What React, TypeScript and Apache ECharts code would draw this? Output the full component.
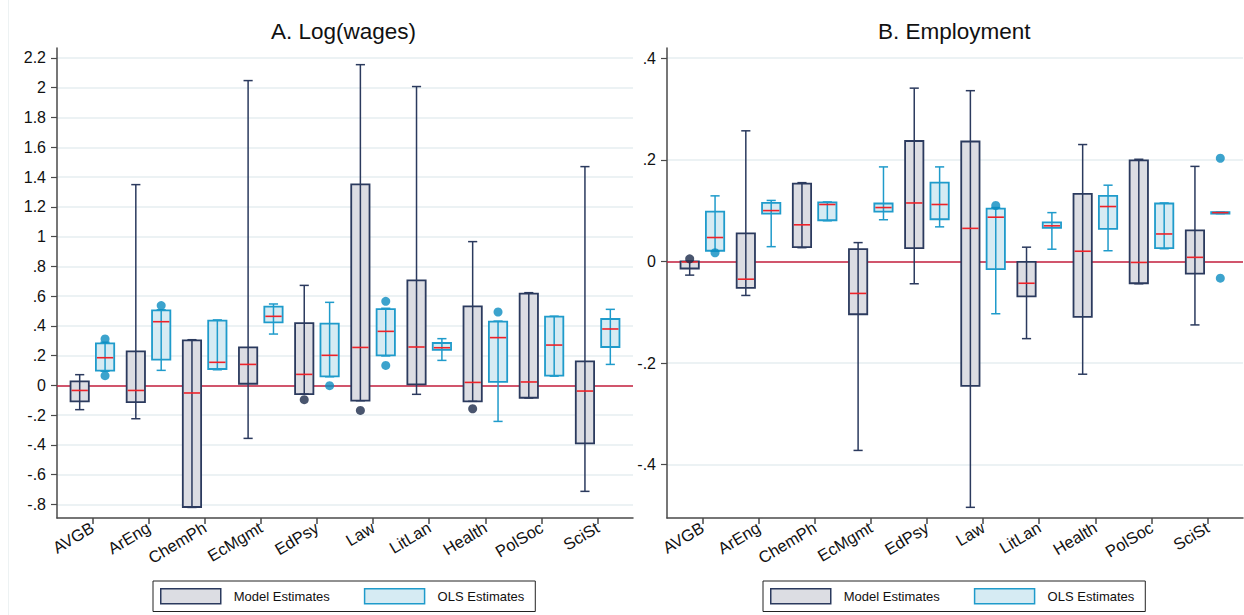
import React, { useEffect, useRef } from "react";
import * as echarts from "echarts";

// ---------- data ----------
const categories = ["AVGB", "ArEng", "ChemPh", "EcMgmt", "EdPsy", "Law", "LitLan", "Health", "PolSoc", "SciSt"];

// each row: [lower whisker, q1, median, q3, upper whisker]
const wageModel = [
  [-0.163, -0.107, -0.034, 0.027, 0.072],
  [-0.224, -0.112, -0.034, 0.229, 1.349],
  [-0.82, -0.817, -0.051, 0.302, 0.307],
  [-0.356, 0.011, 0.141, 0.255, 2.048],
  [-0.058, -0.058, 0.074, 0.419, 0.672],
  [-0.103, -0.103, 0.255, 1.351, 2.155],
  [-0.06, 0.007, 0.258, 0.706, 2.008],
  [-0.107, -0.107, 0.02, 0.531, 0.966],
  [-0.085, -0.083, 0.023, 0.616, 0.623],
  [-0.712, -0.39, -0.038, 0.161, 1.47],
];
const wageOLS = [
  [0.095, 0.099, 0.186, 0.282, 0.29],
  [0.101, 0.173, 0.428, 0.504, 0.508],
  [0.105, 0.11, 0.155, 0.435, 0.44],
  [0.345, 0.423, 0.464, 0.529, 0.547],
  [0.058, 0.06, 0.202, 0.415, 0.558],
  [0.198, 0.202, 0.363, 0.513, 0.518],
  [0.168, 0.238, 0.253, 0.285, 0.314],
  [-0.242, 0.023, 0.321, 0.428, 0.432],
  [0.062, 0.065, 0.271, 0.462, 0.465],
  [0.141, 0.258, 0.379, 0.446, 0.511],
];
const wageModelOutliers: [string, number][] = [
  ["EdPsy", -0.096],
  ["Law", -0.168],
  ["Health", -0.157],
];
const wageOLSOutliers: [string, number][] = [
  ["AVGB", 0.312],
  ["AVGB", 0.065],
  ["ArEng", 0.536],
  ["EdPsy", -0.002],
  ["Law", 0.565],
  ["Law", 0.134],
  ["Health", 0.493],
];

const empModel = [
  [-0.027, -0.014, -0.001, 0.0, 0.0],
  [-0.067, -0.052, -0.035, 0.055, 0.257],
  [0.027, 0.028, 0.072, 0.153, 0.155],
  [-0.372, -0.104, -0.063, 0.024, 0.037],
  [-0.044, 0.026, 0.115, 0.237, 0.341],
  [-0.484, -0.245, 0.065, 0.236, 0.336],
  [-0.152, -0.069, -0.043, -0.001, 0.028],
  [-0.222, -0.109, 0.02, 0.133, 0.23],
  [-0.044, -0.043, -0.002, 0.199, 0.201],
  [-0.125, -0.024, 0.008, 0.061, 0.187],
];
const empOLS = [
  [0.02, 0.021, 0.047, 0.098, 0.129],
  [0.029, 0.094, 0.1, 0.115, 0.12],
  [0.08, 0.081, 0.112, 0.116, 0.117],
  [0.082, 0.098, 0.106, 0.114, 0.186],
  [0.068, 0.083, 0.112, 0.155, 0.186],
  [-0.103, -0.015, 0.087, 0.104, 0.106],
  [0.024, 0.066, 0.07, 0.077, 0.096],
  [0.021, 0.064, 0.108, 0.129, 0.15],
  [0.025, 0.026, 0.054, 0.114, 0.115],
  [0.094, 0.094, 0.096, 0.097, 0.097],
];
const empModelOutliers: [string, number][] = [["AVGB", 0.005]];
const empOLSOutliers: [string, number][] = [
  ["AVGB", 0.017],
  ["Law", 0.11],
  ["SciSt", 0.203],
  ["SciSt", -0.033],
];

const wageTicks = [-0.8, -0.6, -0.4, -0.2, 0, 0.2, 0.4, 0.6, 0.8, 1, 1.2, 1.4, 1.6, 1.8, 2, 2.2];
const empTicks = [-0.4, -0.2, 0, 0.2, 0.4];

// ---------- style ----------
const FONT = "'Liberation Sans', Arial, Helvetica, sans-serif";
const MODEL_FILL = "#dcdde3";
const MODEL_STROKE = "#2b3a5e";
const MODEL_DOT = "#1c2a4a";
const OLS_FILL = "#d6ebf3";
const OLS_STROKE = "#1f9bcb";
const OLS_DOT = "#0b8cc1";
const MEDIAN = "#ee2229";
const ZERO = "#c9203f";
const GRID = "#e6eef0";
const AXIS = "#4a4a4a";
const OFFSET = 0.226;
const BOX_W = 0.326;

const fmt = (v: number) => {
  const r = Math.round(v * 10) / 10;
  if (r === 0) return "0";
  let s = String(r);
  s = s.replace(/^0\./, ".").replace(/^-0\./, "-.");
  return s;
};

function boxRenderer(fill: string, stroke: string) {
  return (params: any, api: any) => {
    const x = api.value(0);
    const lo = api.coord([x, api.value(1)]);
    const q1 = api.coord([x, api.value(2)]);
    const med = api.coord([x, api.value(3)]);
    const q3 = api.coord([x, api.value(4)]);
    const hi = api.coord([x, api.value(5)]);
    const w = api.size([BOX_W, 0])[0];
    const cap = w * 0.25;
    const cx = lo[0];
    const top = Math.min(q1[1], q3[1]);
    const h = Math.max(Math.abs(q1[1] - q3[1]), 0.5);
    return {
      type: "group",
      children: [
        { type: "rect", shape: { x: cx - w / 2, y: top, width: w, height: h }, style: { fill, stroke: "none" } },
        { type: "line", shape: { x1: cx, y1: hi[1], x2: cx, y2: lo[1] }, style: { stroke, lineWidth: 1.5 } },
        { type: "line", shape: { x1: cx - cap, y1: hi[1], x2: cx + cap, y2: hi[1] }, style: { stroke, lineWidth: 1.5 } },
        { type: "line", shape: { x1: cx - cap, y1: lo[1], x2: cx + cap, y2: lo[1] }, style: { stroke, lineWidth: 1.5 } },
        { type: "rect", shape: { x: cx - w / 2, y: top, width: w, height: h }, style: { fill: "none", stroke, lineWidth: 1.8 } },
        { type: "line", shape: { x1: cx - w / 2 + 1, y1: med[1], x2: cx + w / 2 - 1, y2: med[1] }, style: { stroke: MEDIAN, lineWidth: 1.6 } },
      ],
    };
  };
}

function boxData(rows: number[][], off: number) {
  return rows.map((r, i) => [i + off, ...r]);
}
function outData(rows: [string, number][], off: number) {
  return rows.map(([c, v]) => [categories.indexOf(c) + off, v]);
}

function panelSeries(idx: number, model: number[][], ols: number[][], mOut: [string, number][], oOut: [string, number][]) {
  return [
    {
      name: "Model Estimates",
      type: "custom",
      xAxisIndex: idx,
      yAxisIndex: idx,
      renderItem: boxRenderer(MODEL_FILL, MODEL_STROKE),
      itemStyle: { color: MODEL_FILL, borderColor: MODEL_STROKE, borderWidth: 1.5 },
      encode: { x: 0, y: [1, 2, 3, 4, 5] },
      data: boxData(model, -OFFSET),
      z: 3,
      markLine: {
        silent: true,
        symbol: "none",
        label: { show: false },
        lineStyle: { color: ZERO, width: 1.5, type: "solid" },
        data: [{ yAxis: 0 }],
        z: 2,
      },
    },
    {
      name: "OLS Estimates",
      type: "custom",
      xAxisIndex: idx,
      yAxisIndex: idx,
      renderItem: boxRenderer(OLS_FILL, OLS_STROKE),
      itemStyle: { color: OLS_FILL, borderColor: OLS_STROKE, borderWidth: 1.5 },
      encode: { x: 0, y: [1, 2, 3, 4, 5] },
      data: boxData(ols, OFFSET),
      z: 3,
    },
    {
      name: "Model outliers",
      type: "scatter",
      xAxisIndex: idx,
      yAxisIndex: idx,
      symbol: "circle",
      symbolSize: 9,
      itemStyle: { color: MODEL_DOT },
      data: outData(mOut, -OFFSET),
      z: 4,
    },
    {
      name: "OLS outliers",
      type: "scatter",
      xAxisIndex: idx,
      yAxisIndex: idx,
      symbol: "circle",
      symbolSize: 9,
      itemStyle: { color: OLS_DOT },
      data: outData(oOut, OFFSET),
      z: 4,
    },
  ];
}

const catIdx = categories.map((_, i) => i);

function xAxis(idx: number) {
  return {
    type: "value",
    gridIndex: idx,
    min: -0.63,
    max: 9.63,
    axisLine: { show: true, onZero: false, lineStyle: { color: AXIS, width: 1.5 } },
    axisTick: { show: true, customValues: catIdx, length: 6, lineStyle: { color: AXIS, width: 1.5 } },
    axisLabel: {
      show: true,
      customValues: catIdx,
      formatter: (v: number) => categories[Math.round(v)],
      rotate: 31,
      margin: 8,
      fontSize: 16.5,
      color: "#111",
      fontFamily: FONT,
    },
    splitLine: { show: false },
  };
}

function yAxis(idx: number, min: number, max: number, ticks: number[]) {
  return {
    type: "value",
    gridIndex: idx,
    min,
    max,
    axisLine: { show: true, onZero: false, lineStyle: { color: AXIS, width: 1.5 } },
    axisTick: { show: true, customValues: ticks, length: 6, lineStyle: { color: AXIS, width: 1.2 } },
    axisLabel: {
      show: true,
      customValues: ticks,
      formatter: fmt,
      margin: 11,
      fontSize: 16,
      color: "#111",
      fontFamily: FONT,
    },
    splitLine: { show: true, lineStyle: { color: GRID, width: 1.5 } },
  };
}

function legend(left: number) {
  return {
    left,
    top: 581,
    orient: "horizontal",
    selectedMode: false,
    padding: [7, 11, 7, 7],
    itemWidth: 60,
    itemHeight: 15,
    itemGap: 34,
    borderColor: "#222",
    borderWidth: 1,
    textStyle: { fontSize: 13, color: "#111", fontFamily: FONT, padding: [0, 0, 0, 8] },
    data: [
      { name: "Model Estimates", icon: "rect", itemStyle: { color: MODEL_FILL, borderColor: MODEL_STROKE, borderWidth: 1.5 } },
      { name: "OLS Estimates", icon: "rect", itemStyle: { color: OLS_FILL, borderColor: OLS_STROKE, borderWidth: 1.5 } },
    ],
  };
}

export default function App() {
  const ref = useRef<HTMLDivElement>(null);
  useEffect(() => {
    if (!ref.current) return;
    const chart = echarts.init(ref.current, null, { renderer: "svg" });
    chart.setOption({
      animation: false,
      backgroundColor: "#fff",
      textStyle: { fontFamily: FONT },
      title: [
        { text: "A. Log(wages)", left: 271, top: 20, padding: 0, textStyle: { fontSize: 22.5, fontWeight: "normal", color: "#111", fontFamily: FONT } },
        { text: "B. Employment", left: 878, top: 20, padding: 0, textStyle: { fontSize: 22.5, fontWeight: "normal", color: "#111", fontFamily: FONT } },
      ],
      grid: [
        { left: 57, top: 48, width: 576, height: 470, containLabel: false },
        { left: 667, top: 48, width: 576, height: 470, containLabel: false },
      ],
      xAxis: [xAxis(0), xAxis(1)],
      yAxis: [yAxis(0, -0.891, 2.267, wageTicks), yAxis(1, -0.505, 0.42, empTicks)],
      legend: [legend(153), legend(763)],
      graphic: [
        { type: "line", shape: { x1: 8.5, y1: 0, x2: 8.5, y2: 615 }, style: { stroke: "#edf2f3", lineWidth: 1 }, silent: true },
      ],
      series: [
        ...panelSeries(0, wageModel, wageOLS, wageModelOutliers, wageOLSOutliers),
        ...panelSeries(1, empModel, empOLS, empModelOutliers, empOLSOutliers),
      ],
    });
    return () => chart.dispose();
  }, []);
  return <div ref={ref} style={{ width: 1244, height: 615, position: "absolute", left: 0, top: 0 }} />;
}
